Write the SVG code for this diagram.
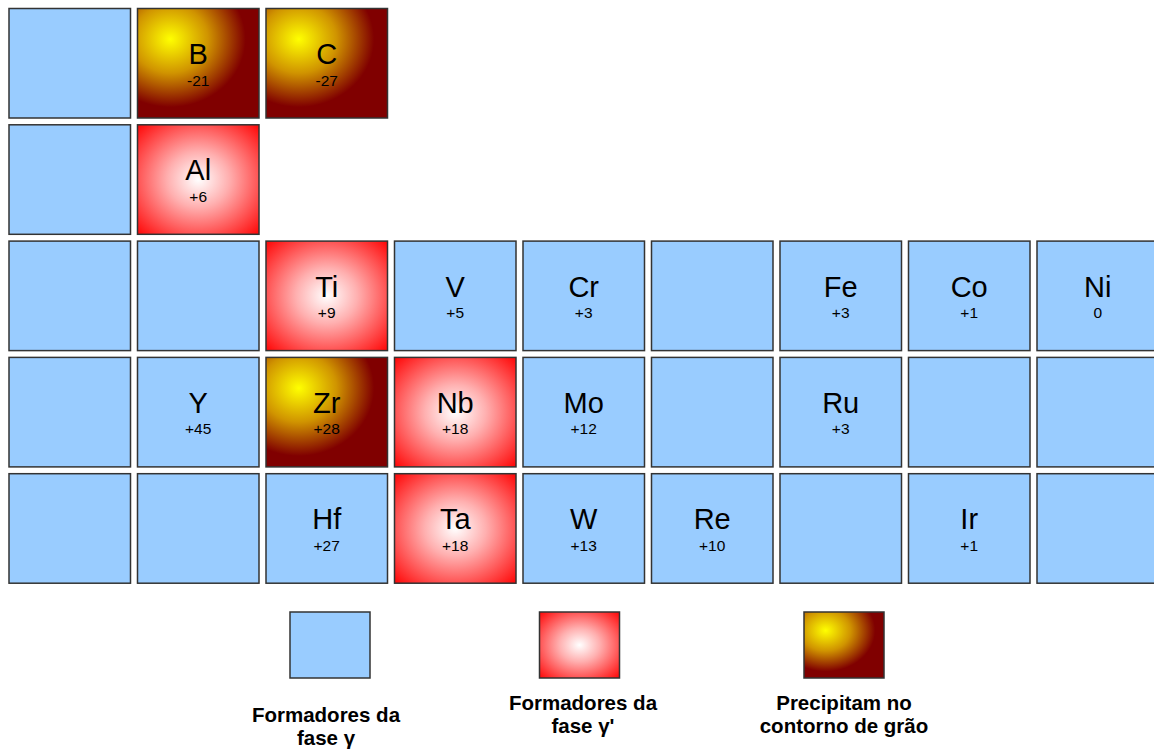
<svg xmlns="http://www.w3.org/2000/svg" width="1154" height="752" viewBox="0 0 1154 752">
<defs>
<radialGradient id="gRed" cx="0.5" cy="0.5" r="0.72">
<stop offset="0" stop-color="#ffffff"/>
<stop offset="0.35" stop-color="#ffb0b0"/>
<stop offset="1" stop-color="#ff0000"/>
</radialGradient>
<radialGradient id="gGold" cx="0.27" cy="0.28" fx="0.27" fy="0.28" r="0.62">
<stop offset="0" stop-color="#ffff00"/>
<stop offset="0.5" stop-color="#d09400"/>
<stop offset="1" stop-color="#800000"/>
</radialGradient>
<style>
.c{stroke:#333;stroke-width:1.5}
.b{fill:#99ccff}
.r{fill:url(#gRed)}
.g{fill:url(#gGold)}
.s{font-family:"Liberation Sans",Arial,sans-serif;font-size:29px;fill:#000;text-anchor:middle}
.n{font-family:"Liberation Sans",Arial,sans-serif;font-size:15.5px;fill:#000;text-anchor:middle}
.l{font-family:"Liberation Sans",Arial,sans-serif;font-size:20.5px;font-weight:bold;fill:#000;text-anchor:middle}
</style>
</defs>
<rect width="1154" height="752" fill="#fff"/>
<g id="cells">
<g id="r0c0"><rect class="c b" x="9" y="8.5" width="121.5" height="109.5"/></g>
<g id="B"><rect class="c g" x="137.5" y="8.5" width="121.5" height="109.5"/><text class="s" x="198.2" y="64">B</text><text class="n" x="198.2" y="85.5">-21</text></g>
<g id="C"><rect class="c g" x="266" y="8.5" width="121.5" height="109.5"/><text class="s" x="326.7" y="64">C</text><text class="n" x="326.7" y="85.5">-27</text></g>

<g id="r1c0"><rect class="c b" x="9" y="124.8" width="121.5" height="109.5"/></g>
<g id="Al"><rect class="c r" x="137.5" y="124.8" width="121.5" height="109.5"/><text class="s" x="198.2" y="180.3">Al</text><text class="n" x="198.2" y="201.8">+6</text></g>

<g id="r2c0"><rect class="c b" x="9" y="241.1" width="121.5" height="109.5"/></g>
<g id="r2c1"><rect class="c b" x="137.5" y="241.1" width="121.5" height="109.5"/></g>
<g id="Ti"><rect class="c r" x="266" y="241.1" width="121.5" height="109.5"/><text class="s" x="326.7" y="296.6">Ti</text><text class="n" x="326.7" y="318.1">+9</text></g>
<g id="V"><rect class="c b" x="394.5" y="241.1" width="121.5" height="109.5"/><text class="s" x="455.2" y="296.6">V</text><text class="n" x="455.2" y="318.1">+5</text></g>
<g id="Cr"><rect class="c b" x="523" y="241.1" width="121.5" height="109.5"/><text class="s" x="583.7" y="296.6">Cr</text><text class="n" x="583.7" y="318.1">+3</text></g>
<g id="r2c5"><rect class="c b" x="651.5" y="241.1" width="121.5" height="109.5"/></g>
<g id="Fe"><rect class="c b" x="780" y="241.1" width="121.5" height="109.5"/><text class="s" x="840.7" y="296.6">Fe</text><text class="n" x="840.7" y="318.1">+3</text></g>
<g id="Co"><rect class="c b" x="908.5" y="241.1" width="121.5" height="109.5"/><text class="s" x="969.2" y="296.6">Co</text><text class="n" x="969.2" y="318.1">+1</text></g>
<g id="Ni"><rect class="c b" x="1037" y="241.1" width="121.5" height="109.5"/><text class="s" x="1097.7" y="296.6">Ni</text><text class="n" x="1097.7" y="318.1">0</text></g>

<g id="r3c0"><rect class="c b" x="9" y="357.4" width="121.5" height="109.5"/></g>
<g id="Y"><rect class="c b" x="137.5" y="357.4" width="121.5" height="109.5"/><text class="s" x="198.2" y="412.9">Y</text><text class="n" x="198.2" y="434.4">+45</text></g>
<g id="Zr"><rect class="c g" x="266" y="357.4" width="121.5" height="109.5"/><text class="s" x="326.7" y="412.9">Zr</text><text class="n" x="326.7" y="434.4">+28</text></g>
<g id="Nb"><rect class="c r" x="394.5" y="357.4" width="121.5" height="109.5"/><text class="s" x="455.2" y="412.9">Nb</text><text class="n" x="455.2" y="434.4">+18</text></g>
<g id="Mo"><rect class="c b" x="523" y="357.4" width="121.5" height="109.5"/><text class="s" x="583.7" y="412.9">Mo</text><text class="n" x="583.7" y="434.4">+12</text></g>
<g id="r3c5"><rect class="c b" x="651.5" y="357.4" width="121.5" height="109.5"/></g>
<g id="Ru"><rect class="c b" x="780" y="357.4" width="121.5" height="109.5"/><text class="s" x="840.7" y="412.9">Ru</text><text class="n" x="840.7" y="434.4">+3</text></g>
<g id="r3c7"><rect class="c b" x="908.5" y="357.4" width="121.5" height="109.5"/></g>
<g id="r3c8"><rect class="c b" x="1037" y="357.4" width="121.5" height="109.5"/></g>

<g id="r4c0"><rect class="c b" x="9" y="473.7" width="121.5" height="109.5"/></g>
<g id="r4c1"><rect class="c b" x="137.5" y="473.7" width="121.5" height="109.5"/></g>
<g id="Hf"><rect class="c b" x="266" y="473.7" width="121.5" height="109.5"/><text class="s" x="326.7" y="529.2">Hf</text><text class="n" x="326.7" y="550.7">+27</text></g>
<g id="Ta"><rect class="c r" x="394.5" y="473.7" width="121.5" height="109.5"/><text class="s" x="455.2" y="529.2">Ta</text><text class="n" x="455.2" y="550.7">+18</text></g>
<g id="W"><rect class="c b" x="523" y="473.7" width="121.5" height="109.5"/><text class="s" x="583.7" y="529.2">W</text><text class="n" x="583.7" y="550.7">+13</text></g>
<g id="Re"><rect class="c b" x="651.5" y="473.7" width="121.5" height="109.5"/><text class="s" x="712.2" y="529.2">Re</text><text class="n" x="712.2" y="550.7">+10</text></g>
<g id="r4c6"><rect class="c b" x="780" y="473.7" width="121.5" height="109.5"/></g>
<g id="Ir"><rect class="c b" x="908.5" y="473.7" width="121.5" height="109.5"/><text class="s" x="969.2" y="529.2">Ir</text><text class="n" x="969.2" y="550.7">+1</text></g>
<g id="r4c8"><rect class="c b" x="1037" y="473.7" width="121.5" height="109.5"/></g>
</g>
<g id="legend">
<g id="leg-gamma"><rect class="c b" x="290" y="612" width="80" height="66"/><text class="l" x="326" y="722">Formadores da</text><text class="l" x="326" y="745">fase γ</text></g>
<g id="leg-gammaprime"><rect class="c r" x="539.5" y="612" width="80" height="66"/><text class="l" x="583" y="710">Formadores da</text><text class="l" x="583" y="733">fase γ'</text></g>
<g id="leg-grain"><rect class="c g" x="804" y="612" width="80" height="66"/><text class="l" x="844" y="710">Precipitam no</text><text class="l" x="844" y="733">contorno de grão</text></g>
</g>
<g id="connectors"/>
</svg>
